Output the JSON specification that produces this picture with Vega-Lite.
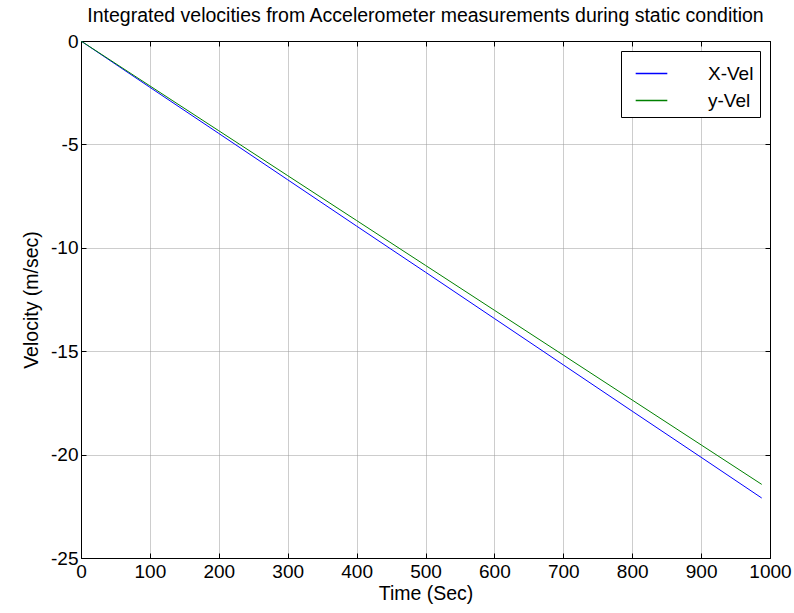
{
  "$schema": "https://vega.github.io/schema/vega-lite/v6.json",
  "width": 689,
  "height": 517,
  "autosize": {"type": "none"},
  "padding": {"left": 81, "top": 41, "right": 24, "bottom": 55},
  "background": "white",
  "title": {
    "text": "Integrated velocities from Accelerometer measurements during static condition",
    "font": "Liberation Sans",
    "fontSize": 19.5,
    "fontWeight": "normal",
    "color": "black",
    "anchor": "middle",
    "offset": 6
  },
  "config": {
    "view": {"stroke": "black", "strokeWidth": 1},
    "axis": {
      "labelFont": "Liberation Sans",
      "labelFontSize": 19,
      "labelColor": "black",
      "titleFont": "Liberation Sans",
      "titleFontSize": 19.5,
      "titleFontWeight": "normal",
      "titleColor": "black",
      "domainColor": "black",
      "tickColor": "black",
      "tickSize": -5,
      "gridColor": "#9a9a9a",
      "gridDash": [1, 1],
      "gridWidth": 1,
      "gridOpacity": 1
    }
  },
  "data": {
    "values": [
      {"t": 0, "v": 0, "s": "X-Vel"},
      {"t": 100, "v": -2.24, "s": "X-Vel"},
      {"t": 200, "v": -4.47, "s": "X-Vel"},
      {"t": 300, "v": -6.71, "s": "X-Vel"},
      {"t": 400, "v": -8.95, "s": "X-Vel"},
      {"t": 500, "v": -11.18, "s": "X-Vel"},
      {"t": 600, "v": -13.42, "s": "X-Vel"},
      {"t": 700, "v": -15.66, "s": "X-Vel"},
      {"t": 800, "v": -17.9, "s": "X-Vel"},
      {"t": 900, "v": -20.13, "s": "X-Vel"},
      {"t": 988, "v": -22.1, "s": "X-Vel"},
      {"t": 0, "v": 0, "s": "y-Vel"},
      {"t": 100, "v": -2.17, "s": "y-Vel"},
      {"t": 200, "v": -4.34, "s": "y-Vel"},
      {"t": 300, "v": -6.51, "s": "y-Vel"},
      {"t": 400, "v": -8.68, "s": "y-Vel"},
      {"t": 500, "v": -10.85, "s": "y-Vel"},
      {"t": 600, "v": -13.02, "s": "y-Vel"},
      {"t": 700, "v": -15.19, "s": "y-Vel"},
      {"t": 800, "v": -17.36, "s": "y-Vel"},
      {"t": 900, "v": -19.53, "s": "y-Vel"},
      {"t": 988, "v": -21.44, "s": "y-Vel"}
    ]
  },
  "layer": [
    {
      "mark": {"type": "line", "strokeWidth": 1, "clip": true},
      "encoding": {
        "x": {
          "field": "t", "type": "quantitative",
          "scale": {"domain": [0, 1000], "nice": false, "zero": false},
          "axis": {"title": "Time (Sec)", "values": [0,100,200,300,400,500,600,700,800,900,1000], "labelExpr": "toString(datum.value)", "grid": true, "labelPadding": 9, "titlePadding": 3, "labelFlush": false}
        },
        "y": {
          "field": "v", "type": "quantitative",
          "scale": {"domain": [-25, 0], "nice": false, "zero": false},
          "axis": {"title": "Velocity (m/sec)", "values": [0,-5,-10,-15,-20,-25], "labelExpr": "toString(datum.value)", "grid": true, "labelPadding": 8, "titlePadding": 9, "labelFlush": false}
        },
        "color": {
          "field": "s", "type": "nominal",
          "scale": {"domain": ["X-Vel", "y-Vel"], "range": ["#0000ff", "#008000"]},
          "legend": {
            "title": null,
            "orient": "none",
            "legendX": 540,
            "legendY": 10,
            "symbolType": "stroke",
            "symbolSize": 1000,
            "symbolStrokeWidth": 1.3,
            "symbolOpacity": 1,
            "labelFont": "Liberation Sans",
            "labelFontSize": 19,
            "labelColor": "black",
            "strokeColor": "black",
            "fillColor": "white",
            "padding": 6,
            "rowPadding": 0,
            "labelOffset": 40,
            "symbolOffset": 8
          }
        }
      }
    },
    {
      "mark": {"type": "line", "opacity": 0},
      "encoding": {
        "x": {
          "field": "t", "type": "quantitative",
          "axis": {"orient": "top", "title": null, "labels": false, "grid": false, "values": [0,100,200,300,400,500,600,700,800,900,1000]}
        },
        "y": {
          "field": "v", "type": "quantitative",
          "axis": {"orient": "right", "title": null, "labels": false, "grid": false, "values": [0,-5,-10,-15,-20,-25]}
        },
        "detail": {"field": "s"}
      }
    }
  ],
  "resolve": {"axis": {"x": "independent", "y": "independent"}}
}
